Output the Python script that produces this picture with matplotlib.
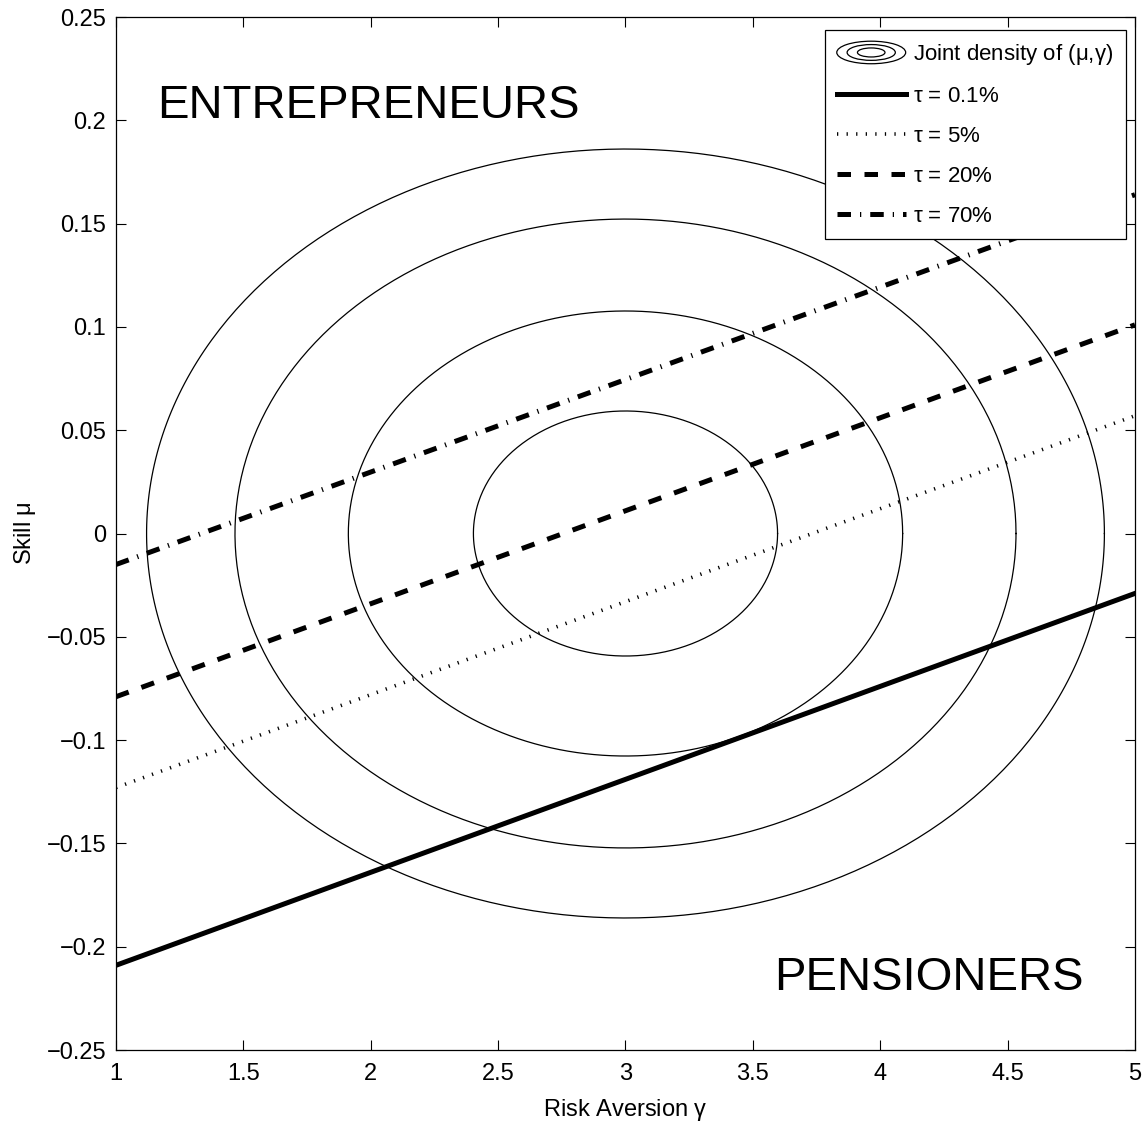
import numpy as np
import matplotlib
matplotlib.use('Agg')
import matplotlib.pyplot as plt
from matplotlib.legend_handler import HandlerBase
from matplotlib.patches import Ellipse
from matplotlib.ticker import FuncFormatter, MultipleLocator

# contour rings of the joint density, centred at (gamma, mu) = (3, 0)
center = (3.0, 0.0)
ring_gamma = [0.597, 1.088, 1.533, 1.880]   # half-widths along gamma
ring_mu = [0.0593, 0.1077, 0.1522, 0.1861]  # half-heights along mu

# indifference lines, given by their end points at gamma = 1 and gamma = 5
gamma_ends = [1, 5]
tau_labels = ['$\\tau$ = 0.1%', '$\\tau$ = 5%', '$\\tau$ = 20%', '$\\tau$ = 70%']
mu_ends = [[-0.209, -0.029],
           [-0.123, 0.057],
           [-0.079, 0.101],
           [-0.015, 0.164]]

fam = 'Liberation Sans'
plt.rcParams['font.family'] = [fam, 'DejaVu Sans']
plt.rcParams['mathtext.fontset'] = 'custom'
plt.rcParams['mathtext.rm'] = fam
plt.rcParams['mathtext.it'] = fam


class HandlerRings(HandlerBase):
    def create_artists(self, legend, orig_handle, xdescent, ydescent,
                       width, height, fontsize, trans):
        cx = width / 2 - xdescent
        cy = height / 2 - ydescent
        out = []
        for f in (1.0, 0.7, 0.4):
            out.append(Ellipse((cx, cy), width * f, height * 1.45 * f, fill=False,
                               lw=0.9, ec='k', transform=trans))
        return out


fig = plt.figure(figsize=(11.48, 11.29), dpi=100)
ax = fig.add_axes([0.10105, 0.06997, 0.8876, 0.91497])

t = np.linspace(0, 2 * np.pi, 400)
rings = []
for a, b in zip(ring_gamma, ring_mu):
    ln, = ax.plot(center[0] + a * np.cos(t), center[1] + b * np.sin(t), 'k-', lw=0.9)
    rings.append(ln)

styles = [dict(ls='-', lw=3.6),
          dict(ls=(0, (0.35, 2.3)), lw=2.6),
          dict(ls=(0, (2.7, 2.7)), lw=3.6),
          dict(ls=(0, (2.7, 1.8, 0.25, 1.8)), lw=3.6)]
tau_lines = []
for ys, st, lab in zip(mu_ends, styles, tau_labels):
    ln, = ax.plot(gamma_ends, ys, color='k', label=lab, **st)
    tau_lines.append(ln)

ax.text(1.989, 0.201, 'ENTREPRENEURS', fontsize=34, ha='center', va='baseline')
ax.text(4.191, -0.221, 'PENSIONERS', fontsize=34, ha='center', va='baseline')

ax.set_xlim(1, 5)
ax.set_ylim(-0.25, 0.25)
ax.xaxis.set_major_locator(MultipleLocator(0.5))
ax.yaxis.set_major_locator(MultipleLocator(0.05))
fmt = FuncFormatter(lambda v, p: ('%g' % round(v, 4)).replace('-', '\u2212'))
ax.xaxis.set_major_formatter(fmt)
ax.yaxis.set_major_formatter(fmt)
ax.tick_params(direction='in', length=7, width=0.8, top=True, right=True,
               labelsize=17)
ax.tick_params(axis='x', pad=9)
ax.tick_params(axis='y', pad=7)
for s in ax.spines.values():
    s.set_linewidth(0.9)

ax.set_xlabel('Risk Aversion $\\gamma$', fontsize=17, labelpad=9)
ax.set_ylabel('Skill $\\mu$', fontsize=17, labelpad=6)

leg = ax.legend([rings[-1]] + tau_lines,
                ['Joint density of ($\\mu$,$\\gamma$)'] + tau_labels,
                handler_map={rings[-1]: HandlerRings()},
                loc='upper right', bbox_to_anchor=(0.991, 0.9874), borderaxespad=0,
                fontsize=16, handlelength=3.1, handletextpad=0.35,
                labelspacing=0.85, borderpad=0.55, fancybox=False,
                edgecolor='k', framealpha=1)
leg.get_frame().set_linewidth(0.9)

fig.savefig('out.png', dpi=100)
